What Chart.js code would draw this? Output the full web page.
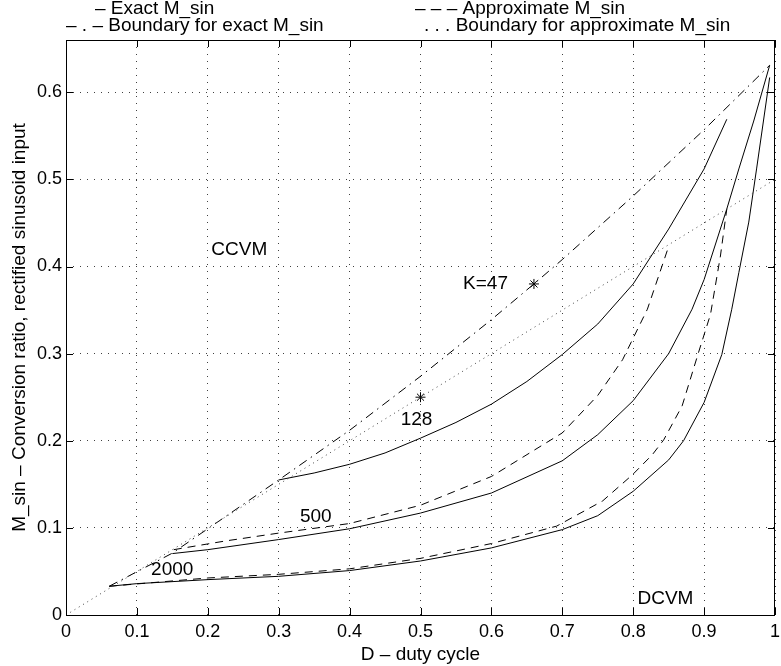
<!DOCTYPE html>
<html>
<head>
<meta charset="utf-8">
<title>M_sin vs duty cycle</title>
<script src="https://cdn.jsdelivr.net/npm/chart.js@4.4.0/dist/chart.umd.min.js"></script>
<style>
  body { margin: 0; background: #fff; }
  canvas { display: block; }
</style>
</head>
<body>
<canvas id="chart" width="781" height="666"></canvas>
<script>
// tick labels
const xTickLabels = ['0', '0.1', '0.2', '0.3', '0.4', '0.5', '0.6', '0.7', '0.8', '0.9', '1'];
const yTickLabels = ['0', '0.1', '0.2', '0.3', '0.4', '0.5', '0.6'];

// CCVM/DCVM boundaries
const boundExactD = [0.061, 0.15, 0.2, 0.3, 0.4, 0.5, 0.6, 0.66, 0.7, 0.8, 0.9, 0.9925];
const boundExactM = [0.033, 0.071, 0.099, 0.155, 0.212, 0.274, 0.339, 0.38, 0.408, 0.481, 0.557, 0.631];
const boundApproxD = [0, 0.5, 1];
const boundApproxM = [0, 0.25, 0.5];

// exact M_sin curves
const exact128D = [0.3, 0.35, 0.4, 0.45, 0.5, 0.55, 0.6, 0.65, 0.7, 0.75, 0.8, 0.85, 0.9, 0.932];
const exact128M = [0.155, 0.163, 0.173, 0.186, 0.203, 0.221, 0.242, 0.268, 0.299, 0.334, 0.38, 0.443, 0.512, 0.569];
const exact500D = [0.15, 0.2, 0.3, 0.4, 0.5, 0.6, 0.7, 0.75, 0.8, 0.85, 0.883, 0.9, 0.932, 0.949, 0.97, 0.9925];
const exact500M = [0.0705, 0.075, 0.0866, 0.099, 0.117, 0.14, 0.177, 0.207, 0.246, 0.3, 0.351, 0.385, 0.466, 0.512, 0.567, 0.631];
const exact2000D = [0.061, 0.1, 0.2, 0.3, 0.4, 0.5, 0.6, 0.7, 0.75, 0.8, 0.85, 0.871, 0.9, 0.925, 0.939, 0.949, 0.963, 0.974, 0.9925];
const exact2000M = [0.033, 0.036, 0.0406, 0.0444, 0.051, 0.062, 0.077, 0.098, 0.114, 0.142, 0.178, 0.2, 0.244, 0.299, 0.351, 0.393, 0.451, 0.512, 0.617];

// approximate M_sin curves
const approx500D = [0.152, 0.225, 0.3, 0.4, 0.5, 0.6, 0.7, 0.75, 0.785, 0.82, 0.85];
const approx500M = [0.075, 0.085, 0.094, 0.105, 0.126, 0.159, 0.209, 0.252, 0.293, 0.351, 0.423];
const approx2000D = [0.061, 0.2, 0.3, 0.4, 0.5, 0.6, 0.692, 0.757, 0.799, 0.827, 0.843, 0.869, 0.892, 0.909, 0.923, 0.932];
const approx2000M = [0.033, 0.0425, 0.0467, 0.053, 0.065, 0.082, 0.102, 0.131, 0.161, 0.184, 0.201, 0.24, 0.301, 0.345, 0.412, 0.466];

// boundary points for K=47 and K=128
const starD = [0.66, 0.5];
const starM = [0.38, 0.25];

// text placed in data units
const notes = [
  { text: 'CCVM', d: 0.205, m: 0.419 },
  { text: 'K=47', d: 0.56, m: 0.38 },
  { text: '128', d: 0.472, m: 0.224 },
  { text: '500', d: 0.33, m: 0.113 },
  { text: '2000', d: 0.12, m: 0.052 },
  { text: 'DCVM', d: 0.806, m: 0.019 }
];

// legend strings above the axes
const legendText = [
  { text: '\u2013 Exact M_sin', x: 95, y: 9 },
  { text: '\u2013 \u2013 \u2013 Approximate M_sin', x: 415, y: 9 },
  { text: '\u2013 . \u2013 Boundary for exact M_sin', x: 66, y: 26 },
  { text: '. . . Boundary for approximate M_sin', x: 424, y: 26 }
];

const FONT = '"Liberation Sans", Arial, Helvetica, sans-serif';
Chart.defaults.font.family = FONT;
Chart.defaults.font.size = 18;
Chart.defaults.color = '#000';

const pts = function(xs, ys) {
  return xs.map((x, i) => ({ x: x, y: ys[i] }));
};

const line = function(xs, ys, dash, color) {
  return {
    data: pts(xs, ys),
    showLine: true,
    borderColor: color || '#000',
    borderWidth: 1,
    borderDash: dash || [],
    pointRadius: 0,
    fill: false
  };
};

// box, inward tick marks, annotations and the text legend
const frame = {
  id: 'frame',
  afterDatasetsDraw(chart) {
    const c = chart.ctx;
    const a = chart.chartArea;
    const xs = chart.scales.x;
    const ys = chart.scales.y;
    c.save();
    c.strokeStyle = '#000';
    c.lineWidth = 1;
    c.beginPath();
    xs.ticks.forEach(t => {
      const px = Math.round(xs.getPixelForValue(t.value)) + 0.5;
      c.moveTo(px, a.bottom); c.lineTo(px, a.bottom - 7);
      c.moveTo(px, a.top); c.lineTo(px, a.top + 7);
    });
    ys.ticks.forEach(t => {
      const py = Math.round(ys.getPixelForValue(t.value)) + 0.5;
      c.moveTo(a.left, py); c.lineTo(a.left + 7, py);
      c.moveTo(a.right, py); c.lineTo(a.right - 7, py);
    });
    c.stroke();
    c.strokeRect(Math.round(a.left) + 0.5, Math.round(a.top) + 0.5,
      Math.round(a.right - a.left) - 1, Math.round(a.bottom - a.top));

    c.fillStyle = '#000';
    c.font = '19px ' + FONT;
    c.textAlign = 'left';
    c.textBaseline = 'middle';
    notes.forEach(n => {
      c.fillText(n.text, xs.getPixelForValue(n.d), ys.getPixelForValue(n.m));
    });
    legendText.forEach(l => c.fillText(l.text, l.x, l.y));
    c.restore();
  }
};

const ctx = document.getElementById('chart');
const chart = new Chart(ctx, {
  type: 'scatter',
  data: {
    datasets: [
      line(boundApproxD, boundApproxM, [1, 4], '#444'),
      line(boundExactD, boundExactM, [9, 5, 1.5, 5]),
      line(exact128D, exact128M),
      line(exact500D, exact500M),
      line(exact2000D, exact2000M),
      line(approx500D, approx500M, [8, 6]),
      line(approx2000D, approx2000M, [8, 6]),
      {
        data: pts(starD, starM),
        showLine: false,
        pointStyle: 'star',
        pointRadius: 5,
        borderColor: '#000',
        borderWidth: 1
      }
    ]
  },
  options: {
    responsive: false,
    animation: false,
    events: [],
    layout: { padding: { left: 0, right: 1, top: 40, bottom: 0 } },
    plugins: { legend: { display: false }, tooltip: { enabled: false } },
    scales: {
      x: {
        type: 'linear',
        min: 0,
        max: 1,
        ticks: {
          stepSize: 0.1,
          includeBounds: false,
          maxRotation: 0,
          padding: 6,
          callback: (v, i) => xTickLabels[i]
        },
        grid: { color: 'rgba(0,0,0,0.75)', lineWidth: 1, drawTicks: false },
        border: { display: false, dash: [1, 6] },
        title: { display: true, text: 'D \u2013 duty cycle', font: { size: 19 }, padding: { top: 0, bottom: 0 } },
        afterFit: s => { s.height = 51; s.paddingLeft = 0; s.paddingRight = 0; }
      },
      y: {
        type: 'linear',
        min: 0,
        max: 0.66,
        ticks: {
          stepSize: 0.1,
          includeBounds: false,
          padding: 4,
          callback: (v, i) => yTickLabels[i]
        },
        grid: { color: 'rgba(0,0,0,0.75)', lineWidth: 1, drawTicks: false },
        border: { display: false, dash: [1, 6] },
        title: { display: true, text: 'M_sin \u2013 Conversion ratio, rectified sinusoid input', font: { size: 19 }, padding: { top: 8, bottom: 0 } },
        afterFit: s => { s.width = 66; s.paddingTop = 0; s.paddingBottom = 0; }
      }
    }
  },
  plugins: [frame]
});
</script>
</body>
</html>
